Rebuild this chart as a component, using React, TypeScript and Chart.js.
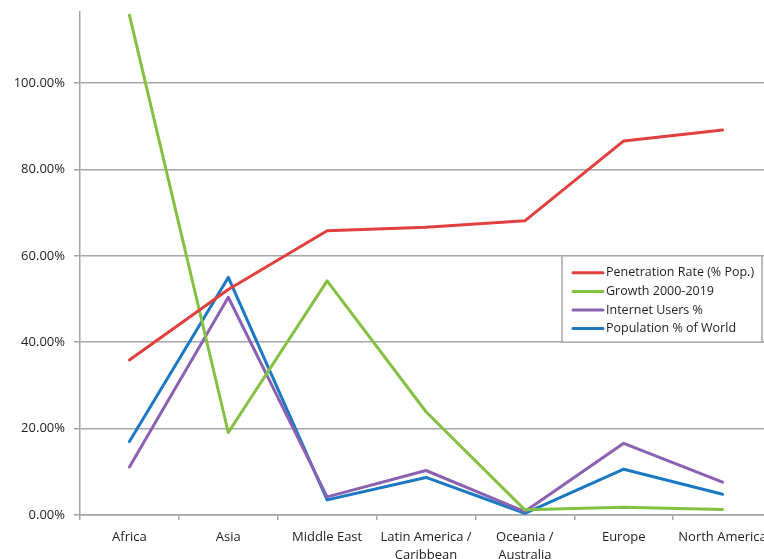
import React, { useEffect, useRef } from "react";
import { Chart, registerables } from "chart.js";

Chart.register(...registerables);

// Regions along the category axis
const regions: (string | string[])[] = [
  "Africa",
  "Asia",
  "Middle East",
  ["Latin America /", "Caribbean"],
  ["Oceania /", "Australia"],
  "Europe",
  "North America",
];

// Shares as fractions (1 = 100%)
const penetrationRate = [0.359, 0.522, 0.658, 0.666, 0.681, 0.866, 0.891];
const growth2000to2019 = [1.157, 0.191, 0.542, 0.239, 0.012, 0.018, 0.013];
const internetUsers = [0.111, 0.504, 0.042, 0.103, 0.008, 0.166, 0.076];
const populationShare = [0.17, 0.55, 0.035, 0.087, 0.004, 0.106, 0.048];

const seriesLabels = [
  "Penetration Rate (% Pop.)",
  "Growth 2000-2019",
  "Internet Users %",
  "Population % of World",
];
const seriesColors = ["#e2403f", "#84c041", "#8b62b1", "#1b79c3"];

const yTicksStep = 0.2;
const yAxisMax = 1.1644;

const FONT = "'Open Sans', 'Liberation Sans', sans-serif";
const GRID = "#a6a6a6";
const TEXT = "#1e1e1e";

// Legend drawn inside the plot between the 40% and 60% gridlines
const legendBox = {
  id: "legendBox",
  afterDatasetsDraw(chart: any) {
    const { ctx } = chart;
    const y = chart.scales.y;
    const area = chart.chartArea;
    const top = y.getPixelForValue(0.6);
    const bottom = y.getPixelForValue(0.4);
    const left = area.right - 210;
    const right = area.right - 10;
    ctx.save();
    ctx.fillStyle = "#ffffff";
    ctx.fillRect(left, top, right - left, bottom - top);
    ctx.strokeStyle = GRID;
    ctx.lineWidth = 1.5;
    ctx.strokeRect(left, top, right - left, bottom - top);
    const rowH = (bottom - top - 12) / chart.data.datasets.length;
    ctx.font = `12.5px ${FONT}`;
    ctx.textBaseline = "middle";
    ctx.textAlign = "left";
    chart.data.datasets.forEach((ds: any, i: number) => {
      const cy = top + 17 + i * rowH;
      ctx.strokeStyle = ds.borderColor;
      ctx.lineWidth = 3;
      ctx.lineCap = "round";
      ctx.beginPath();
      ctx.moveTo(left + 11, cy);
      ctx.lineTo(left + 41, cy);
      ctx.stroke();
      ctx.fillStyle = TEXT;
      ctx.fillText(ds.label, left + 44, cy);
    });
    ctx.restore();
  },
};

export default function App() {
  const canvasRef = useRef<HTMLCanvasElement | null>(null);

  useEffect(() => {
    const canvas = canvasRef.current;
    if (!canvas) return;
    const values = [penetrationRate, growth2000to2019, internetUsers, populationShare];
    const chart = new Chart(canvas, {
      type: "line",
      data: {
        labels: regions,
        datasets: values.map((data, i) => ({
          label: seriesLabels[i],
          data,
          borderColor: seriesColors[i],
          backgroundColor: seriesColors[i],
          borderWidth: 3,
          pointRadius: 0,
          tension: 0,
          fill: false,
          borderCapStyle: "round" as const,
          borderJoinStyle: "round" as const,
        })),
      },
      options: {
        responsive: false,
        animation: false,
        devicePixelRatio: 1,
        layout: { padding: { left: 0, top: 12, right: 18, bottom: 0 } },
        plugins: {
          legend: { display: false },
          tooltip: { enabled: false },
        },
        scales: {
          x: {
            offset: true,
            grid: {
              offset: true,
              drawOnChartArea: false,
              drawTicks: true,
              tickLength: 5,
              color: GRID,
              lineWidth: 1.5,
            },
            border: { display: true, color: GRID, width: 1.5 },
            ticks: {
              color: TEXT,
              font: { family: FONT, size: 13, lineHeight: 1.35 },
              padding: 9,
              maxRotation: 0,
              autoSkip: false,
            },
            afterFit(scale: any) {
              scale.height = 44;
              scale.paddingLeft = 0;
              scale.paddingRight = 0;
            },
          },
          y: {
            min: 0,
            max: yAxisMax,
            grid: {
              color: GRID,
              lineWidth: 1.5,
              drawTicks: true,
              tickLength: 6,
            },
            border: { display: true, color: GRID, width: 1.5 },
            ticks: {
              stepSize: yTicksStep,
              includeBounds: false,
              padding: 9,
              color: TEXT,
              font: { family: FONT, size: 13 },
              callback: (v: any) => (Number(v) * 100).toFixed(2) + "%",
            },
            afterFit(scale: any) {
              scale.width = 80;
              scale.paddingTop = 0;
              scale.paddingBottom = 0;
            },
          },
        },
      },
      plugins: [legendBox],
    });
    return () => chart.destroy();
  }, []);

  return (
    <div
      style={{
        position: "fixed",
        left: 0,
        top: 0,
        width: 764,
        height: 559,
        overflow: "hidden",
        background: "#ffffff",
      }}
    >
      <canvas ref={canvasRef} width={790} height={559} />
    </div>
  );
}
